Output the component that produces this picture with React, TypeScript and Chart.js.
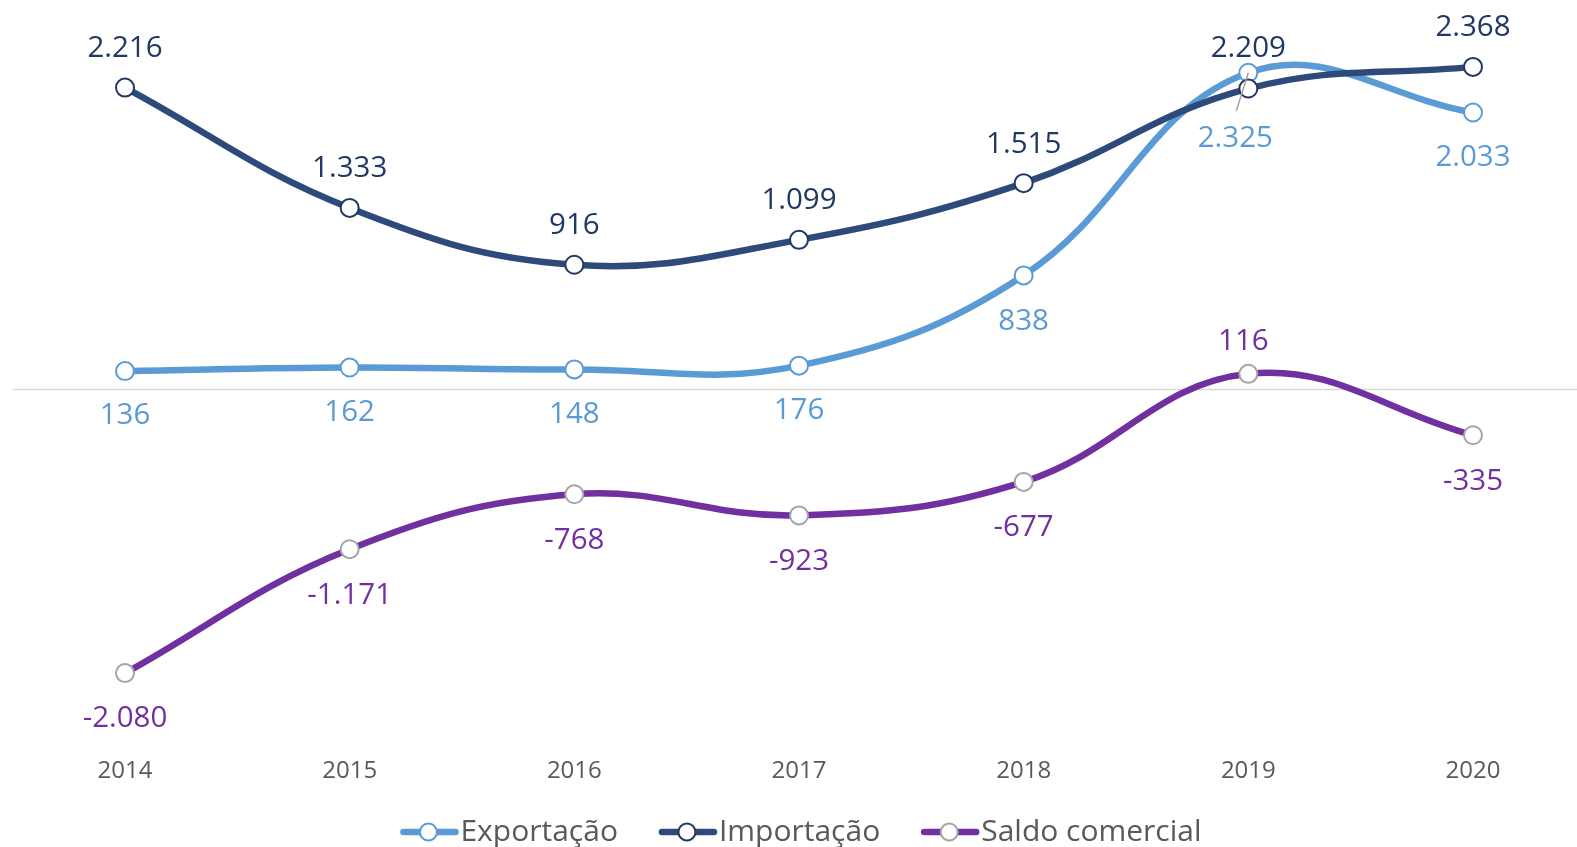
import React, { useEffect, useRef } from 'react';
import { Chart, registerables } from 'chart.js';

Chart.register(...registerables);

// ---- data ----
const years = ['2014', '2015', '2016', '2017', '2018', '2019', '2020'];
const exportacao = [136, 162, 148, 176, 838, 2325, 2033];
const importacao = [2216, 1333, 916, 1099, 1515, 2209, 2368];
const saldoComercial = [-2080, -1171, -768, -923, -677, 116, -335];

// ---- label placement (style) ----
const exportLabelDy = [45, 45, 45, 45, 46, 66, 45];
const exportLabelDx = [0, 0, 0, 0, 0, -13, 0];
const importLabelDy = [-39, -39, -39, -39, -39, -40, -39];
const saldoLabelDy = [45, 46, 46, 46, 46, -32, 46];
const saldoLabelDx = [0, 0, 0, 0, 0, -5, 0];

const C_EXP = '#5B9BD5';
const C_IMP = '#2E4A7A';
const C_IMP_TXT = '#1F3864';
const C_SAL = '#7030A0';
const C_SAL_PT = '#A5A5A5';
const FONT = "'Open Sans', 'Noto Sans', sans-serif";

function fmt(v: number): string {
  const neg = v < 0;
  const s = String(Math.abs(v));
  const withSep = s.replace(/\B(?=(\d{3})+(?!\d))/g, '.');
  return (neg ? '-' : '') + withSep;
}

const zeroLinePlugin = {
  id: 'zeroLine',
  beforeDatasetsDraw(chart: any) {
    const ctx = chart.ctx;
    const y = chart.scales.y.getPixelForValue(0);
    ctx.save();
    ctx.strokeStyle = '#D9D9D9';
    ctx.lineWidth = 1.5;
    ctx.beginPath();
    ctx.moveTo(13, y);
    ctx.lineTo(chart.width, y);
    ctx.stroke();
    ctx.restore();
  },
};

const labelPlugin = {
  id: 'valueLabels',
  afterDatasetsDraw(chart: any) {
    const ctx = chart.ctx;
    ctx.save();
    ctx.font = `29.5px ${FONT}`;
    ctx.textAlign = 'center';
    ctx.textBaseline = 'middle';
    chart.data.datasets.forEach((ds: any, i: number) => {
      const meta = chart.getDatasetMeta(i);
      meta.data.forEach((pt: any, j: number) => {
        const dx = ds._labelDx ? ds._labelDx[j] : 0;
        const dy = ds._labelDy[j];
        if (Math.abs(dy) > 55) {
          ctx.strokeStyle = '#A5A5A5';
          ctx.lineWidth = 1.5;
          ctx.beginPath();
          ctx.moveTo(pt.x, pt.y);
          ctx.lineTo(pt.x - 12, pt.y + 38);
          ctx.stroke();
        }
        ctx.fillStyle = ds._labelColor;
        ctx.fillText(fmt(ds.data[j]), pt.x + dx, pt.y + dy);
      });
    });
    ctx.restore();
  },
};

// custom legend: line + open circle marker, text right after it
const legendPlugin = {
  id: 'lineLegend',
  afterDraw(chart: any) {
    const ctx = chart.ctx;
    const dss = chart.data.datasets;
    const markerW = 58;
    const textGap = 2;
    const itemGap = 41;
    const centerX = 801;
    const cy = 832;
    ctx.save();
    ctx.font = `30px ${FONT}`;
    ctx.textBaseline = 'middle';
    ctx.textAlign = 'left';
    const widths = dss.map((ds: any) => ctx.measureText(ds.label).width);
    const total =
      widths.reduce((a: number, w: number) => a + markerW + textGap + w, 0) + itemGap * (dss.length - 1);
    let x = centerX - total / 2;
    dss.forEach((ds: any, i: number) => {
      ctx.lineCap = 'round';
      ctx.strokeStyle = ds.borderColor;
      ctx.lineWidth = 6.5;
      ctx.beginPath();
      ctx.moveTo(x + 3, cy);
      ctx.lineTo(x + markerW - 3, cy);
      ctx.stroke();
      ctx.beginPath();
      ctx.arc(x + 28, cy, 8.5, 0, Math.PI * 2);
      ctx.fillStyle = '#ffffff';
      ctx.fill();
      ctx.lineWidth = 2;
      ctx.strokeStyle = ds.pointBorderColor;
      ctx.stroke();
      ctx.fillStyle = '#595959';
      ctx.fillText(ds.label, x + markerW + textGap, cy);
      x += markerW + textGap + widths[i] + itemGap;
    });
    ctx.restore();
  },
};

export default function App() {
  const ref = useRef<HTMLCanvasElement | null>(null);

  useEffect(() => {
    document.body.style.margin = '0';
    const common = {
      borderWidth: 6.5,
      pointRadius: 9,
      pointHoverRadius: 9,
      pointBorderWidth: 2,
      pointBackgroundColor: '#ffffff',
      tension: 0.4,
      fill: false,
      clip: false as any,
    };
    const chart = new Chart(ref.current!, {
      type: 'line',
      data: {
        labels: years,
        datasets: [
          {
            ...common,
            label: 'Exportação',
            data: exportacao,
            borderColor: C_EXP,
            pointBorderColor: C_EXP,
            order: 1,
            _labelDy: exportLabelDy,
            _labelDx: exportLabelDx,
            _labelColor: C_EXP,
          } as any,
          {
            ...common,
            label: 'Importação',
            data: importacao,
            borderColor: C_IMP,
            pointBorderColor: C_IMP_TXT,
            order: 0,
            _labelDy: importLabelDy,
            _labelColor: C_IMP_TXT,
          } as any,
          {
            ...common,
            label: 'Saldo comercial',
            data: saldoComercial,
            borderColor: C_SAL,
            pointBorderColor: C_SAL_PT,
            order: 2,
            _labelDy: saldoLabelDy,
            _labelDx: saldoLabelDx,
            _labelColor: C_SAL,
          } as any,
        ],
      },
      options: {
        animation: false,
        responsive: true,
        maintainAspectRatio: false,
        layout: { padding: { left: 125, right: 104, top: 0, bottom: 54 } },
        scales: {
          x: {
            offset: false,
            grid: { display: false },
            border: { display: false },
            ticks: { color: '#595959', font: { family: FONT, size: 24 }, padding: 7 },
          },
          y: {
            min: -2587,
            max: 2778,
            grid: { display: false, drawTicks: false },
            border: { display: false },
            ticks: { display: false, stepSize: 500 },
          },
        },
        plugins: {
          tooltip: { enabled: false },
          legend: { display: false },
        },
      },
      plugins: [zeroLinePlugin, labelPlugin, legendPlugin],
    });
    return () => chart.destroy();
  }, []);

  return (
    <div style={{ position: 'relative', width: '1577px', height: '847px' }}>
      <canvas ref={ref} />
    </div>
  );
}
